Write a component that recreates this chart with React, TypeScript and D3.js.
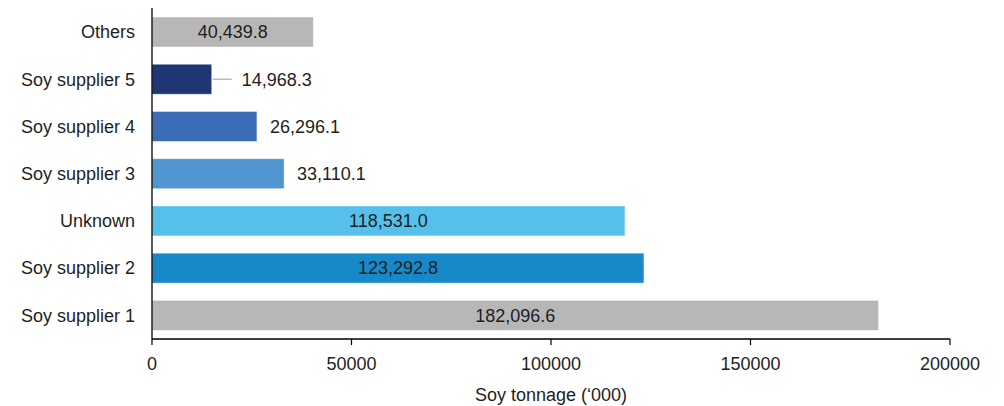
import React from "react";
import * as d3 from "d3";

const categories = ["Others", "Soy supplier 5", "Soy supplier 4", "Soy supplier 3", "Unknown", "Soy supplier 2", "Soy supplier 1"];
const values = [40439.8, 14968.3, 26296.1, 33110.1, 118531.0, 123292.8, 182096.6];
const colors = ["#b7b7b7", "#1f3673", "#3c6cb6", "#5094d0", "#55c0ec", "#1789c9", "#b7b7b7"];
const labelInside = [true, false, false, false, true, true, true];
const leaderLine = [false, true, false, false, false, false, false];
const xTicks = [0, 50000, 100000, 150000, 200000];
const xTitle = "Soy tonnage (\u2018000)";

const W = 1004;
const H = 406;
const FONT = "'Liberation Sans', Arial, sans-serif";
const TEXT = "#1e1e1e";

export default function App() {
  const x = d3.scaleLinear().domain([0, 200000]).range([152, 950]);
  const y = d3.scaleBand<string>().domain(categories).range([8.4, 339]).paddingInner(0.365).paddingOuter(0.1825);
  const fmt = d3.format(",.1f");
  const axisY = 339;
  const bw = y.bandwidth();

  return (
    <svg width={W} height={H} style={{ position: "absolute", left: 0, top: 0, background: "#fff" }} fontFamily={FONT}>
      {categories.map((c, i) => {
        const y0 = y(c)!;
        const cy = y0 + bw / 2;
        const xe = x(values[i]);
        const x0 = x(0);
        let labelX: number;
        let anchor: "middle" | "start";
        if (labelInside[i]) {
          labelX = (x0 + xe) / 2;
          anchor = "middle";
        } else {
          labelX = leaderLine[i] ? xe + 30 : xe + 13;
          anchor = "start";
        }
        return (
          <g key={c}>
            <rect x={x0} y={y0} width={xe - x0} height={bw} fill={colors[i]} stroke="#ffffff" strokeOpacity={0.45} strokeWidth={1} />
            {leaderLine[i] && <line x1={xe + 1} x2={xe + 20} y1={cy} y2={cy} stroke="#bdbdbd" strokeWidth={1.5} />}
            <text x={labelX} y={cy} dy="0.35em" textAnchor={anchor} fontSize={18} fill={TEXT}>
              {fmt(values[i])}
            </text>
            <text x={135} y={cy} dy="0.35em" textAnchor="end" fontSize={18} fill={TEXT}>
              {c}
            </text>
          </g>
        );
      })}
      <line x1={x(0)} x2={x(0)} y1={8} y2={axisY} stroke="#000" strokeWidth={1.3} />
      <line x1={x(0)} x2={x(200000)} y1={axisY} y2={axisY} stroke="#000" strokeWidth={1.3} />
      {xTicks.map((t) => (
        <g key={t}>
          <line x1={x(t)} x2={x(t)} y1={axisY} y2={axisY + 6} stroke="#000" strokeWidth={1.2} />
          <text x={x(t)} y={369.5} textAnchor="middle" fontSize={18} fill={TEXT}>
            {String(t)}
          </text>
        </g>
      ))}
      <text x={(x(0) + x(200000)) / 2} y={401} textAnchor="middle" fontSize={18} fill={TEXT}>
        {xTitle}
      </text>
    </svg>
  );
}
